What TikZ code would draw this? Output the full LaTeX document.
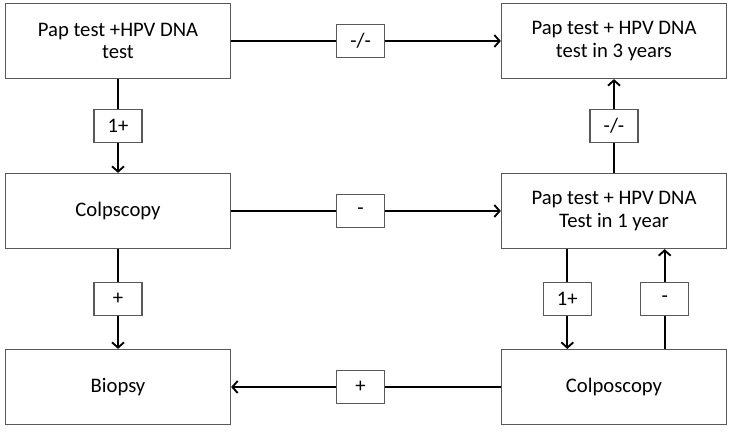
\documentclass[tikz,border=0pt]{standalone}
\usepackage{fontspec}
\setmainfont{Carlito}
\usetikzlibrary{arrows.meta}
\tikzset{stepbox/.style={draw=black!65, line width=0.9pt, fill=white, minimum width=168.75pt, minimum height=56.25pt, align=center, inner sep=2pt, font=\fontsize{15.5}{17}\selectfont},
  tag/.style={draw=black!65, line width=0.9pt, fill=white, minimum width=36pt, minimum height=24.75pt, inner sep=1pt, font=\fontsize{15.5}{16}\selectfont},
  link/.style={black, line width=1.4pt, -{Straight Barb[length=4pt,width=9pt]}}}

\begin{document}
\begin{tikzpicture}[x=0.75pt,y=-0.75pt]
  \useasboundingbox (0,0) rectangle (735,436);
  % boxes
  \node[stepbox] (tl) at (118,41) {Pap test +HPV DNA\\test};
  \node[stepbox] (tr) at (614,41) {Pap test + HPV DNA\\test in 3 years};
  \node[stepbox] (ml) at (118,211) {Colpscopy};
  \node[stepbox] (mr) at (614,211) {Pap test + HPV DNA\\Test in 1 year};
  \node[stepbox] (bl) at (118,387) {Biopsy};
  \node[stepbox] (br) at (614,387) {Colposcopy};
  % connectors
  \draw[link] (tl) -- node[tag,pos=0.48] {-/-} (tr);
  \draw[link] (tl) -- node[tag] {1+} (ml);
  \draw[link] (ml) -- node[tag,pos=0.48] {-} (mr);
  \draw[link] (ml) -- node[tag] {+} (bl);
  \draw[link] (br) -- node[tag,pos=0.52] {+} (bl);
  \draw[link] (mr) -- node[tag] {-/-} (tr);
  \draw[link] ([xshift=-35pt]mr.south) -- node[tag] {1+} ([xshift=-35pt]br.north);
  \draw[link] ([xshift=38pt]br.north) -- node[tag] {-} ([xshift=38pt]mr.south);
\end{tikzpicture}
\end{document}
